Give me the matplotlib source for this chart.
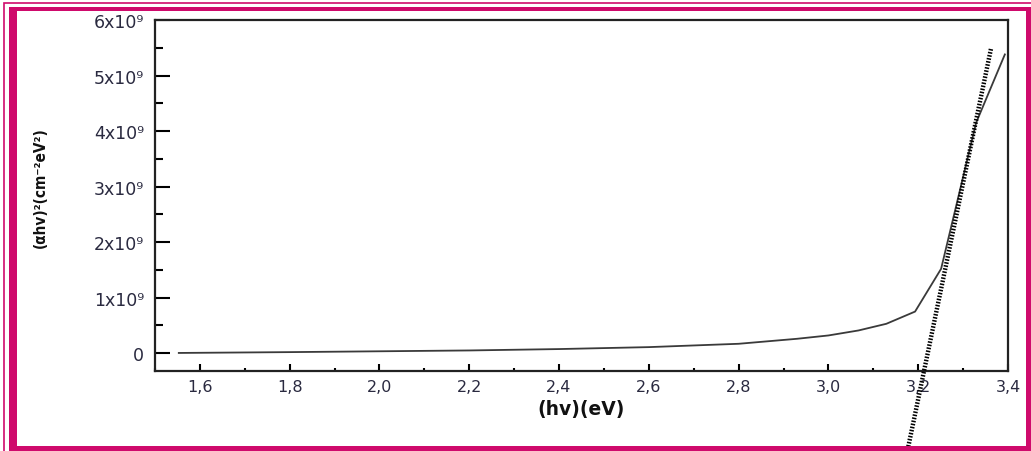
import matplotlib
matplotlib.use("Agg")
import matplotlib.pyplot as plt
from matplotlib.patches import Rectangle
from matplotlib.ticker import MultipleLocator, FixedLocator

# ---- data ----
hv = [1.553, 1.8, 2.0, 2.2, 2.4, 2.6, 2.8, 2.93, 3.0, 3.067, 3.129, 3.193, 3.251, 3.329, 3.393]
ahv2 = [0.005e9, 0.02e9, 0.035e9, 0.05e9, 0.075e9, 0.11e9, 0.17e9, 0.26e9, 0.32e9,
        0.41e9, 0.53e9, 0.75e9, 1.52e9, 4.15e9, 5.38e9]
fit_x = [3.178, 3.362]
fit_y = [-1.68e9, 5.48e9]

x_ticks = [1.6, 1.8, 2.0, 2.2, 2.4, 2.6, 2.8, 3.0, 3.2, 3.4]
x_ticklabels = ["1,6", "1,8", "2,0", "2,2", "2,4", "2,6", "2,8", "3,0", "3,2", "3,4"]
y_ticks = [0, 1e9, 2e9, 3e9, 4e9, 5e9, 6e9]
y_ticklabels = ["0", "1x10⁹", "2x10⁹", "3x10⁹", "4x10⁹", "5x10⁹", "6x10⁹"]
xlabel = "(hv)(eV)"
ylabel = "(αhv)²(cm⁻²eV²)"

W, H = 1031, 452
fig = plt.figure(figsize=(W / 100, H / 100), dpi=100)
fig.patch.set_facecolor("white")

def px(x0, y0, x1, y1):
    return (x0 / W, 1 - y1 / H, (x1 - x0) / W, (y1 - y0) / H)

ax = fig.add_axes(px(155, 21, 1008, 372))
ax.plot(hv, ahv2, color="#3a3a3a", lw=1.3, zorder=3)
ax.plot(fit_x, fit_y, color="black", lw=3.2, linestyle=(0, (0.35, 0.35)),
        clip_on=False, zorder=4)

ax.set_xlim(1.5, 3.4)
ax.set_ylim(-0.32e9, 6e9)
ax.xaxis.set_major_locator(FixedLocator(x_ticks))
ax.set_xticklabels(x_ticklabels)
ax.xaxis.set_minor_locator(MultipleLocator(0.1))
ax.yaxis.set_major_locator(FixedLocator(y_ticks))
ax.set_yticklabels(y_ticklabels)
ax.yaxis.set_minor_locator(MultipleLocator(0.5e9))

tc = "#2a2a40"
ax.tick_params(axis="y", which="major", direction="in", length=11, width=1.5,
               labelsize=12.5, labelcolor=tc, pad=8)
ax.tick_params(axis="y", which="minor", direction="in", length=6, width=1.5)
ax.tick_params(axis="x", which="major", direction="in", length=5, width=1.5,
               labelsize=11.5, labelcolor=tc, pad=6)
ax.tick_params(axis="x", which="minor", direction="in", length=2.5, width=1.5)
for s in ax.spines.values():
    s.set_linewidth(1.6)
    s.set_color("#222222")

fig.text(581 / W, 1 - 410 / H, xlabel, ha="center", va="center",
         fontsize=13.5, fontweight="bold", color="#111111")
fig.text(40 / W, 1 - 188 / H, ylabel, ha="center", va="center", rotation=90,
         fontsize=11, fontweight="bold", fontstretch="condensed", color="#111111",
         family=["DejaVu Sans"])

# ---- decorative frame ----
mag = "#cf0a6c"
# thin outer line
fig.patches.append(Rectangle((3.5 / W, 1 - 460 / H), 1040 / W, (460 - 3.5) / H,
                             transform=fig.transFigure, fill=False,
                             edgecolor=mag, lw=1.2, zorder=0))
# thick bands
for (x0, y0, x1, y1) in [(9, 8, 17, 452), (9, 8, 1031, 12), (1026, 8, 1031, 452), (9, 447, 1031, 452)]:
    fig.patches.append(Rectangle((x0 / W, 1 - y1 / H), (x1 - x0) / W, (y1 - y0) / H,
                                 transform=fig.transFigure, facecolor=mag,
                                 edgecolor="none", zorder=5))

fig.savefig("out.png", dpi=100)
